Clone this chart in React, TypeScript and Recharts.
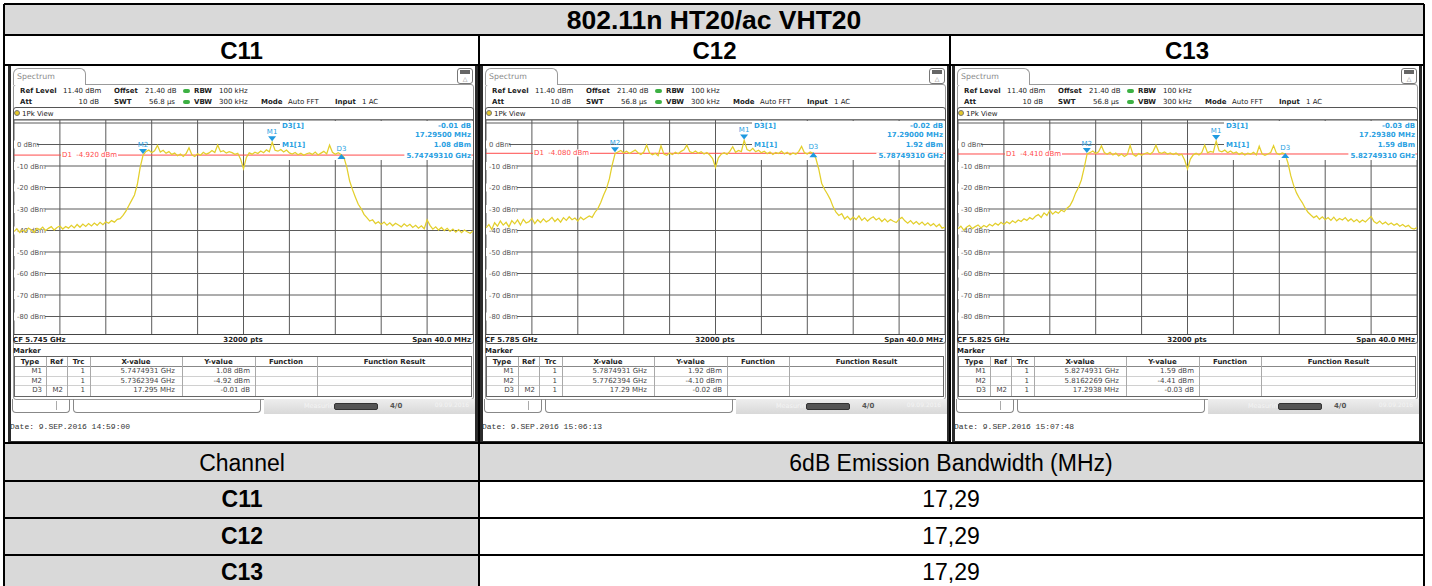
import React from 'react'
import { LineChart, Line, XAxis, YAxis, CartesianGrid, ReferenceLine, ReferenceDot } from 'recharts'

// ---- data ----
const channels = ['C11', 'C12', 'C13']
const centerFreqs = ['5.745', '5.785', '5.825']
const spanMHz = 40
const refLevel = 11.4
const levelTicks = [10, 0, -10, -20, -30, -40, -50, -60, -70, -80]
const freqTicks = [-16, -12, -8, -4, 0, 4, 8, 12, 16]

const d1Levels = [-4.92, -4.08, -4.41]
const d1Labels = ['-4.920', '-4.080', '-4.410']
const m1Offsets = [2.4931, 2.4931, 2.4931]
const m1Levels = [1.08, 1.92, 1.59]
const m2Offsets = [-8.7606, -8.7606, -8.7731]
const m2Levels = [-4.92, -4.1, -4.41]
const d3Deltas = [17.295, 17.29, 17.2938]
const d3Levels = [-0.01, -0.02, -0.03]

const readoutDelta = ['-0.01 dB', '-0.02 dB', '-0.03 dB']
const readoutFreq = ['17.29500 MHz', '17.29000 MHz', '17.29380 MHz']
const readoutM1 = ['1.08 dBm', '1.92 dBm', '1.59 dBm']
const readoutGHz = ['5.74749310 GHz', '5.78749310 GHz', '5.82749310 GHz']

const tableX = [
  ['5.7474931 GHz', '5.7362394 GHz', '17.295 MHz'],
  ['5.7874931 GHz', '5.7762394 GHz', '17.29 MHz'],
  ['5.8274931 GHz', '5.8162269 GHz', '17.2938 MHz'],
]
const tableY = [
  ['1.08 dBm', '-4.92 dBm', '-0.01 dB'],
  ['1.92 dBm', '-4.10 dBm', '-0.02 dB'],
  ['1.59 dBm', '-4.41 dBm', '-0.03 dB'],
]
const dates = ['9.SEP.2016  14:59:00', '9.SEP.2016  15:06:13', '9.SEP.2016  15:07:48']
const bandwidths = ['17,29', '17,29', '17,29']

// trace levels (dBm), equally spaced over the 40 MHz span
const traceC11 = [
  -40.5, -39.2, -41.0, -39.8, -40.6, -38.9, -39.7, -40.9, -39.0, -39.6,
  -38.4, -40.1, -39.0, -38.2, -39.8, -38.6, -37.9, -39.3, -38.1, -38.9,
  -37.6, -38.8, -37.2, -38.5, -37.0, -38.1, -36.8, -37.9, -36.5, -37.6,
  -36.2, -37.3, -35.9, -36.6, -35.4, -36.1, -34.8, -34.5, -33.0, -31.0,
  -28.5, -26.0, -23.5, -18.5, -10.5, -4.9, -3.2, -2.6, -3.8, -2.9,
  -0.4, -3.5, -2.7, -4.1, -3.3, -4.6, -4.0, -5.2, -4.4, -5.5,
  -4.2, -1.5, -4.8, -5.6, -4.3, -5.0, -3.6, -4.5, -3.9, -2.8,
  -3.7, -0.2, -3.4, -2.9, -4.0, -3.3, -3.8, -4.6, -4.1, -6.8,
  -11.2, -6.0, -3.9, -4.5, -3.6, -4.2, -3.0, -3.8, -2.5, -3.4,
  1.08, -2.7, -3.1, -2.3, -3.5, -2.6, -3.9, -4.4, -3.7, -4.8,
  -4.1, -5.0, -4.3, -3.9, -4.6, -3.5, -4.9, -4.0, -3.2, -4.4,
  -0.3, -3.6, -4.5, -3.8, -4.6, -6.0, -10.5, -17.0, -21.0, -24.5,
  -27.8, -29.8, -32.5, -34.0, -35.6, -35.0, -36.8, -35.9, -37.2, -36.1,
  -37.5, -36.4, -37.8, -36.6, -37.4, -38.3, -36.9, -38.0, -37.1, -38.6,
  -37.6, -38.9, -37.8, -39.2, -35.0, -37.6, -39.4, -38.3, -39.8, -38.6,
  -40.1, -39.0, -40.4, -39.3, -40.8, -39.6, -41.0, -39.8, -40.6, -41.3,
  -40.2,
]
const traceC12 = [
  -38.8, -37.2, -39.5, -36.4, -38.0, -35.6, -37.5, -36.2, -38.3, -35.4,
  -36.9, -35.1, -37.4, -34.8, -36.5, -35.9, -34.3, -36.8, -35.0, -36.3,
  -34.6, -36.0, -35.2, -33.9, -35.8, -34.5, -36.1, -34.0, -35.3, -33.6,
  -35.0, -34.2, -35.6, -33.8, -35.0, -34.1, -33.2, -33.9, -31.5, -29.8,
  -27.0, -23.5, -20.5, -16.0, -9.5, -4.2, -3.5, -2.8, -3.9, -3.1,
  -4.2, -3.4, -2.6, -3.8, -4.6, -3.5, -0.2, -3.9, -4.8, -4.1,
  -5.2, -0.6, -4.4, -5.0, -4.0, -4.7, -3.6, -4.3, -3.2, -2.5,
  -0.3, -3.3, -3.9, -3.0, -4.1, -3.4, -4.4, -3.7, -4.9, -6.5,
  -10.6, -6.2, -4.5, -3.8, -4.6, -3.2, -1.0, -3.6, -2.8, -3.3,
  1.92, -2.4, -3.0, -1.8, -3.4, -2.7, -3.8, -3.1, -4.3, -3.5,
  -4.6, -3.7, -4.2, -3.1, -4.4, -3.6, -4.8, -3.9, -4.5, -3.3,
  -0.9, -3.8, -4.4, -3.5, -4.1, -6.5, -11.5, -18.0, -20.8, -23.0,
  -25.5, -29.0, -31.5, -33.0, -32.2, -34.6, -33.4, -35.0, -33.8, -34.9,
  -33.2, -35.3, -34.1, -35.6, -34.4, -33.6, -35.1, -34.2, -35.8, -34.6,
  -36.0, -34.9, -35.7, -36.3, -34.8, -33.9, -35.5, -36.6, -35.4, -36.9,
  -35.8, -37.2, -36.1, -37.5, -36.4, -37.8, -36.8, -38.2, -37.1, -38.9,
  -38.4,
]
const traceC13 = [
  -39.2, -38.0, -39.8, -38.5, -37.6, -39.1, -38.2, -37.4, -38.8, -37.7,
  -38.4, -37.1, -37.9, -36.6, -37.5, -36.2, -37.2, -35.9, -36.8, -35.5,
  -36.4, -35.1, -35.8, -34.5, -35.3, -34.0, -34.8, -33.4, -32.6, -33.9,
  -31.8, -33.0, -30.6, -32.4, -31.2, -32.0, -30.5, -31.3, -29.6, -28.5,
  -26.0, -22.5, -20.0, -16.5, -10.8, -4.4, -3.8, -3.0, -4.2, -3.4,
  -0.6, -3.7, -4.5, -3.6, -4.9, -4.0, -5.3, -4.4, -5.6, -4.7,
  -0.4, -4.6, -5.4, -4.2, -5.0, -4.3, -3.8, -4.5, -3.3, -0.3,
  -3.6, -4.1, -3.5, -4.4, -3.9, -4.7, -4.0, -5.0, -4.5, -7.2,
  -11.3, -6.8, -4.8, -4.1, -4.9, -3.7, -0.2, -3.9, -3.2, -3.6,
  1.59, -2.9, -3.4, -2.6, -3.8, -3.0, -4.1, -3.5, -4.6, -3.8,
  -4.9, -4.0, -4.5, -3.6, -4.8, -0.8, -4.3, -5.0, -4.4, -3.7,
  -0.5, -4.0, -4.7, -3.9, -4.4, -8.5, -14.5, -19.0, -22.5, -25.0,
  -27.0, -29.5, -31.5, -32.8, -34.0, -33.2, -34.8, -33.6, -35.0, -34.0,
  -35.3, -33.8, -35.5, -34.4, -35.1, -34.0, -35.6, -34.6, -35.9, -34.9,
  -36.2, -35.1, -36.0, -34.7, -33.5, -35.8, -36.7, -35.6, -37.0, -36.1,
  -37.3, -36.5, -37.6, -36.8, -38.0, -37.2, -38.3, -37.6, -38.9, -39.3,
  -38.6,
]
const traces = [traceC11, traceC12, traceC13]

// ---- styling ----
const SCREEN_FONT = '"DejaVu Sans", sans-serif'
const MONO_FONT = '"Liberation Mono", monospace'
const TABLE_FONT = '"Liberation Sans", Arial, sans-serif'
const TRACE_YELLOW = '#e3cf2c'
const MARK_BLUE = '#1f9ae0'
const TEXT_BLUE = '#2a9fe2'
const D1_RED = '#ff4a4a'
const GRID = '#5a5a5a'
const CELL_GRAY = '#d9d9d9'

const plotLefts = [14, 486, 958]
const PLOT_W = 459
const PLOT_TOP = 120
const PLOT_H = 215
const yDomain = [refLevel - 100, refLevel]
const yOf = (v: number) => PLOT_TOP + ((refLevel - v) / 100) * PLOT_H

function toRows(levels: number[]) {
  const n = levels.length
  return levels.map((level, i) => ({ f: -spanMHz / 2 + (spanMHz * i) / (n - 1), level }))
}

type TxtProps = {
  x: number
  y: number
  children: any
  size?: number
  bold?: boolean
  color?: string
  anchor?: 'start' | 'middle' | 'end'
  bg?: string
  font?: string
  style?: any
}

function Txt(p: TxtProps) {
  const tx = p.anchor === 'end' ? '-100%' : p.anchor === 'middle' ? '-50%' : '0'
  return (
    <div style={{
      position: 'absolute', left: p.x, top: p.y,
      transform: `translate(${tx}, -50%)`,
      fontSize: p.size || 7, fontWeight: p.bold ? 700 : 400,
      color: p.color || '#222', fontFamily: p.font || SCREEN_FONT,
      whiteSpace: 'nowrap', lineHeight: 1, background: p.bg,
      ...p.style,
    }}>{p.children}</div>
  )
}

function Box(p: { x: number; y: number; w: number; h: number; style?: any }) {
  return <div style={{ position: 'absolute', left: p.x, top: p.y, width: p.w, height: p.h, boxSizing: 'border-box', ...p.style }} />
}

const levelTick = (props: any) => {
  const { y, payload } = props
  if (payload.value === 10) return <g />
  const label = `${payload.value} dBm`
  return (
    <g>
      <rect x={0} y={y - 4} width={label.length * 4 + 3} height={8} fill="#fff" />
      <text x={3} y={y + 2.5} fontSize={6.8} fill="#555" fontFamily={SCREEN_FONT}>{label}</text>
    </g>
  )
}

const markerDown = (label: string) => (props: any) => {
  const { cx, cy } = props
  return (
    <g>
      <path d={`M${cx - 4},${cy - 6} L${cx + 4},${cy - 6} L${cx},${cy - 1} Z`} fill={MARK_BLUE} />
      <text x={cx} y={cy - 8} textAnchor="middle" fontSize={7} fill={TEXT_BLUE} fontFamily={SCREEN_FONT}>{label}</text>
    </g>
  )
}

const markerUp = (label: string) => (props: any) => {
  const { cx, cy } = props
  return (
    <g>
      <path d={`M${cx - 4},${cy + 4} L${cx + 4},${cy + 4} L${cx},${cy - 1} Z`} fill={MARK_BLUE} />
      <text x={cx} y={cy - 4} textAnchor="middle" fontSize={7} fill={TEXT_BLUE} fontFamily={SCREEN_FONT}>{label}</text>
    </g>
  )
}

function freqAxis() {
  return <XAxis dataKey="f" type="number" domain={[-spanMHz / 2, spanMHz / 2]} ticks={freqTicks} interval={0} hide allowDataOverflow />
}

function SpectrumPanel({ idx }: { idx: number }) {
  const rows = toRows(traces[idx])
  const d3Offset = m2Offsets[idx] + d3Deltas[idx]
  const d3Level = m2Levels[idx] + d3Levels[idx]
  const headerBold = { fontWeight: 700 }
  const colX = [0, 32, 53, 76, 168, 241, 303, 458]
  const rowY = [356, 366, 375.5, 385, 396]
  return (
    <div style={{ position: 'absolute', left: plotLefts[idx], top: 0 }}>
      {/* screenshot frame */}
      <Box x={-6} y={66} w={470} h={378} style={{ border: '3px solid #2b2b2b', borderTop: 'none', background: '#fff' }} />
      <Box x={-1} y={84} w={461} h={316} style={{ border: '1px solid #9a9a9a', borderRadius: 3 }} />
      <Box x={-1} y={68} w={73} h={17} style={{ border: '1px solid #9a9a9a', borderBottom: 'none', borderRadius: '6px 6px 0 0', background: '#fff' }} />
      <Txt x={3} y={77} size={7.8} color="#8a8a8a">Spectrum</Txt>
      <Box x={443} y={68} w={16} h={16} style={{ border: '1px solid #777', borderRadius: 3 }} />
      <Box x={446} y={70} w={10} h={4} style={{ background: '#666' }} />
      <Txt x={451} y={79} size={6} color="#777" anchor="middle">△</Txt>

      {/* settings header */}
      <Txt x={6} y={91} bold>Ref Level</Txt>
      <Txt x={49} y={91}>11.40 dBm</Txt>
      <Txt x={100} y={91} bold>Offset</Txt>
      <Txt x={131} y={91}>21.40 dB</Txt>
      <Box x={169} y={89} w={7} h={4} style={{ background: '#3cb043', borderRadius: 2 }} />
      <Txt x={180} y={91} bold>RBW</Txt>
      <Txt x={205} y={91}>100 kHz</Txt>
      <Txt x={6} y={102} bold>Att</Txt>
      <Txt x={85} y={102} anchor="end">10 dB</Txt>
      <Txt x={100} y={102} bold>SWT</Txt>
      <Txt x={161} y={102} anchor="end">56.8 µs</Txt>
      <Box x={169} y={100} w={7} h={4} style={{ background: '#3cb043', borderRadius: 2 }} />
      <Txt x={180} y={102} bold>VBW</Txt>
      <Txt x={205} y={102}>300 kHz</Txt>
      <Txt x={247} y={102} bold>Mode</Txt>
      <Txt x={274} y={102}>Auto FFT</Txt>
      <Txt x={321} y={102} bold>Input</Txt>
      <Txt x={348} y={102}>1 AC</Txt>

      {/* 1Pk View window */}
      <Box x={-1} y={107} w={461} h={237} style={{ border: '1px solid #555', borderRadius: 3 }} />
      <Box x={0} y={110} w={6} h={6} style={{ background: '#e5c82a', border: '1px solid #777', borderRadius: 3 }} />
      <Txt x={8} y={113.5}>1Pk View</Txt>

      {/* grid layer */}
      <div style={{ position: 'absolute', left: 0, top: PLOT_TOP }}>
        <LineChart width={PLOT_W} height={PLOT_H} data={rows} margin={{ top: 0, right: 0, bottom: 0, left: 0 }}>
          <CartesianGrid stroke={GRID} strokeWidth={1} />
          {freqAxis()}
          <YAxis type="number" domain={yDomain} ticks={levelTicks} interval={0} mirror axisLine={false} tickLine={false} tick={levelTick} allowDataOverflow />
        </LineChart>
      </div>
      {/* readout backdrop hides grid behind marker info */}
      <Box x={266} y={PLOT_TOP + 0.5} w={193} h={39} style={{ background: '#fff' }} />

      {/* trace layer */}
      <div style={{ position: 'absolute', left: 0, top: PLOT_TOP }}>
        <LineChart width={PLOT_W} height={PLOT_H} data={rows} margin={{ top: 0, right: 0, bottom: 0, left: 0 }}>
          {freqAxis()}
          <YAxis type="number" domain={yDomain} hide allowDataOverflow />
          <ReferenceLine y={d1Levels[idx]} stroke={D1_RED} strokeWidth={1} />
          <Line dataKey="level" type="linear" stroke={TRACE_YELLOW} strokeWidth={1.25} dot={false} isAnimationActive={false} />
          <ReferenceDot x={m2Offsets[idx]} y={m2Levels[idx]} shape={markerDown('M2')} ifOverflow="visible" />
          <ReferenceDot x={m1Offsets[idx]} y={m1Levels[idx]} shape={markerDown('M1')} ifOverflow="visible" />
          <ReferenceDot x={d3Offset} y={d3Level} shape={markerUp('D3')} ifOverflow="visible" />
        </LineChart>
      </div>
      <Box x={0} y={PLOT_TOP - 1} w={PLOT_W} h={PLOT_H + 1} style={{ borderTop: '1px solid #777', borderBottom: '1px solid #444' }} />

      {/* marker readouts */}
      <Txt x={47} y={yOf(d1Levels[idx])} color={D1_RED} bg="#fff" style={{ padding: '0 1px' }}>D1 &nbsp;{d1Labels[idx]} dBm</Txt>
      <Txt x={268} y={125.5} bold color={TEXT_BLUE}>D3[1]</Txt>
      <Txt x={457} y={125.5} bold color={TEXT_BLUE} anchor="end">{readoutDelta[idx]}</Txt>
      <Txt x={457} y={135} bold color={TEXT_BLUE} anchor="end">{readoutFreq[idx]}</Txt>
      <Txt x={268} y={144.5} bold color={TEXT_BLUE}>M1[1]</Txt>
      <Txt x={457} y={144.5} bold color={TEXT_BLUE} anchor="end">{readoutM1[idx]}</Txt>
      <Txt x={457} y={155.5} bold color={TEXT_BLUE} anchor="end" bg="#fff" style={{ paddingLeft: 2 }}>{readoutGHz[idx]}</Txt>

      {/* footer of the diagram */}
      <Txt x={-1} y={339.5} bold>CF {centerFreqs[idx]} GHz</Txt>
      <Txt x={229} y={339.5} bold anchor="middle">32000 pts</Txt>
      <Txt x={457} y={339.5} bold anchor="end">Span {spanMHz.toFixed(1)} MHz</Txt>

      {/* marker table */}
      <Txt x={-1} y={350.5} bold>Marker</Txt>
      <Box x={0} y={356} w={458} h={41} style={{ border: '1px solid #666' }} />
      {rowY.slice(1, 4).map((y, i) => (
        <Box key={'r' + i} x={1} y={y} w={456} h={1} style={{ background: i === 0 ? '#888' : '#d0d0d0' }} />
      ))}
      {colX.slice(1, 7).map((x, i) => (
        <Box key={'c' + i} x={x} y={357} w={1} h={39} style={{ background: '#aaa' }} />
      ))}
      {['Type', 'Ref', 'Trc', 'X-value', 'Y-value', 'Function', 'Function Result'].map((h, i) => (
        <Txt key={h} x={(colX[i] + colX[i + 1]) / 2} y={361.5} anchor="middle" style={headerBold}>{h}</Txt>
      ))}
      {['M1', 'M2', 'D3'].map((m, r) => (
        <React.Fragment key={m}>
          <Txt x={colX[1] - 4} y={371 + r * 9.5} anchor="end" color="#444">{m}</Txt>
          {r === 2 && <Txt x={colX[2] - 4} y={371 + r * 9.5} anchor="end" color="#444">M2</Txt>}
          <Txt x={colX[3] - 5} y={371 + r * 9.5} anchor="end" color="#444">1</Txt>
          <Txt x={colX[4] - 7} y={371 + r * 9.5} anchor="end" color="#444">{tableX[idx][r]}</Txt>
          <Txt x={colX[5] - 5} y={371 + r * 9.5} anchor="end" color="#444">{tableY[idx][r]}</Txt>
        </React.Fragment>
      ))}

      {/* status bar */}
      <Box x={-2} y={399} w={58} h={14} style={{ border: '1px solid #888', borderTop: 'none', borderRadius: '0 0 4px 4px' }} />
      <Box x={42} y={401} w={1} h={9} style={{ background: '#aaa' }} />
      <Box x={59} y={399} w={188} h={14} style={{ border: '1px solid #888', borderTop: 'none', borderRadius: '0 0 4px 4px' }} />
      <Box x={250} y={399} w={211} h={15} style={{ background: 'linear-gradient(#eeeeee, #d8d8d8)' }} />
      <Txt x={290} y={406} size={6.5} color="#f4f4f4">Measuring...</Txt>
      <Box x={320} y={403} w={44} h={7} style={{ background: '#555', borderRadius: 2, border: '1px solid #333' }} />
      <Txt x={376} y={406} size={7} bold color="#555">4/0</Txt>
      <Txt x={438} y={405} size={6} color="#f4f4f4" anchor="middle">09.09.2016</Txt>

      <Txt x={-4} y={427} size={8} font={MONO_FONT} color="#333">Date: {dates[idx]}</Txt>
    </div>
  )
}

export default function App() {
  const line = '#000'
  const colCenters = [241.5, 714.5, 1187]
  const bigText = { fontSize: 23 }
  return (
    <div style={{ position: 'relative', width: 1432, height: 586, background: '#fff', overflow: 'hidden', fontFamily: TABLE_FONT }}>
      <style>{'body{margin:0}'}</style>
      {/* title + header rows */}
      <Box x={4} y={4} w={1420} h={31} style={{ background: CELL_GRAY }} />
      <Txt x={714} y={20} size={26.5} bold font={TABLE_FONT} color="#000" anchor="middle">802.11n HT20/ac VHT20</Txt>
      {channels.map((c, i) => (
        <Txt key={c} x={colCenters[i]} y={50.5} size={24} bold font={TABLE_FONT} color="#000" anchor="middle">{c}</Txt>
      ))}

      {channels.map((c, i) => <SpectrumPanel key={c} idx={i} />)}

      {/* result table */}
      <Box x={4} y={443} w={475} h={150} style={{ background: CELL_GRAY }} />
      <Box x={479} y={443} w={945} h={38} style={{ background: CELL_GRAY }} />
      <Txt x={242} y={462.5} font={TABLE_FONT} color="#000" anchor="middle" style={bigText}>Channel</Txt>
      <Txt x={951} y={462.5} font={TABLE_FONT} color="#000" anchor="middle" style={bigText}>6dB Emission Bandwidth (MHz)</Txt>
      {channels.map((c, i) => (
        <React.Fragment key={c}>
          <Txt x={242} y={499 + i * 36.7} bold font={TABLE_FONT} color="#000" anchor="middle" style={bigText}>{c}</Txt>
          <Txt x={951} y={499 + i * 36.7} font={TABLE_FONT} color="#000" anchor="middle" style={bigText}>{bandwidths[i]}</Txt>
        </React.Fragment>
      ))}

      {/* table rules */}
      {[4, 35, 65, 443, 481, 518, 555].map((y) => (
        <Box key={'h' + y} x={4} y={y - 1} w={1420} h={2} style={{ background: line }} />
      ))}
      <Box x={3} y={4} w={2} h={590} style={{ background: line }} />
      <Box x={1423} y={4} w={2} h={590} style={{ background: line }} />
      <Box x={478} y={35} w={2} h={560} style={{ background: line }} />
      <Box x={949} y={35} w={2} h={409} style={{ background: line }} />
    </div>
  )
}
